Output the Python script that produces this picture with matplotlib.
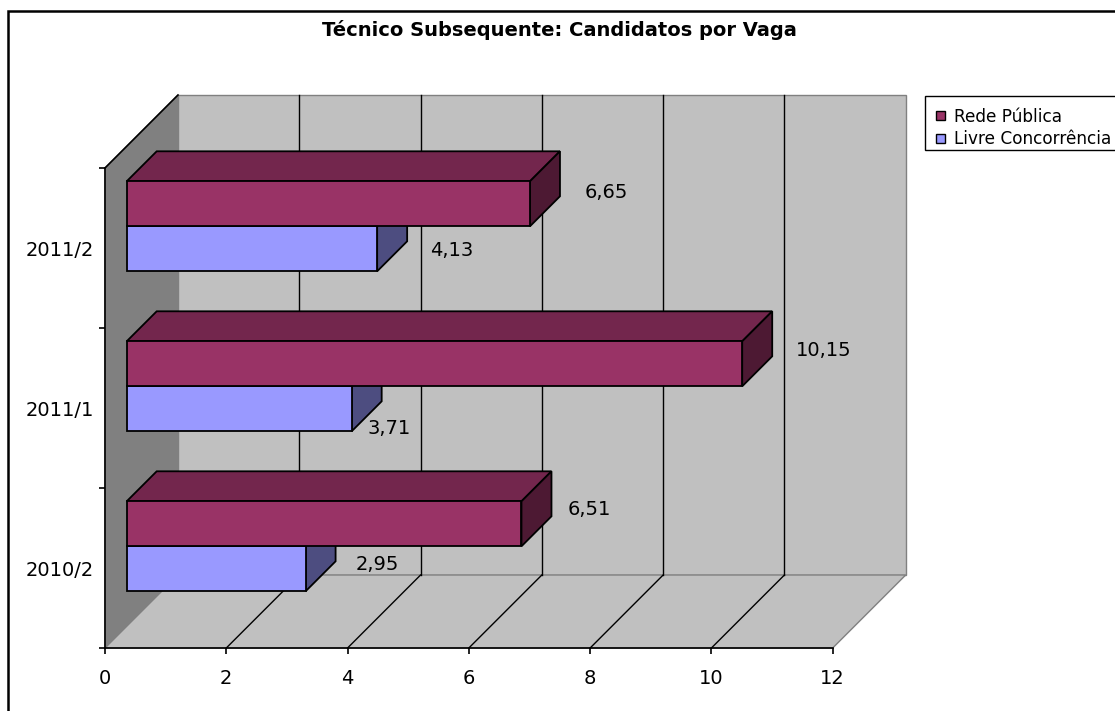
import matplotlib
matplotlib.use("Agg")
import matplotlib.pyplot as plt
from matplotlib.patches import Polygon, Rectangle

# ---------------- data ----------------
categories = ["2010/2", "2011/1", "2011/2"]
series_names = ["Rede Pública", "Livre Concorrência"]
rede_publica = [6.51, 10.15, 6.65]
livre_concorrencia = [2.95, 3.71, 4.13]
value_labels_rede = ["6,51", "10,15", "6,65"]
value_labels_livre = ["2,95", "3,71", "4,13"]
x_ticks = [0, 2, 4, 6, 8, 10, 12]
title = "Técnico Subsequente: Candidatos por Vaga"

# ---------------- style ----------------
W, H, DPI = 1115, 711, 100
plt.rcParams['font.family'] = ['DejaVu Sans']
c_rede = ("#993366", "#73264D", "#4D1933")     # front, top, side
c_livre = ("#9999FF", "#7373BF", "#4D4D80")
wall_back = "#C0C0C0"
wall_left = "#808080"
floor_c = "#C0C0C0"
edge_gray = "#808080"
# label nudges in pixels (dx right, dy down) from bar front end / centre
lab_off_rede = [(68, -9), (81, -8), (76, -6)]
lab_off_livre = [(72, 1), (37, 25), (75, 7)]

fig = plt.figure(figsize=(W / DPI, H / DPI), dpi=DPI)
fig.patch.set_facecolor("white")

def fx(px):
    return px / W

def fy(py):
    return 1 - py / H

# axes: front plane of the 3D box
ax_l, ax_r, ax_t, ax_b = 105, 832.7, 168, 648
ax = fig.add_axes([fx(ax_l), fy(ax_b), fx(ax_r - ax_l), (ax_b - ax_t) / H])
ax.set_xlim(0, 12)
ax.set_ylim(0, 3)
ax.patch.set_alpha(0)

ux = (ax_r - ax_l) / 12.0   # px per value unit
uy = (ax_b - ax_t) / 3.0    # px per category unit

def depth(px):
    return px / ux, px / uy

Dx, Dy = depth(73)          # full depth of the box
Fx, Fy = depth(21.7)        # front plane of bars
Bx, By = depth(30)          # bar depth

def poly(pts, fc, ec, lw=1.0, z=1):
    p = Polygon(pts, closed=True, facecolor=fc, edgecolor=ec, linewidth=lw,
                clip_on=False, zorder=z, joinstyle='miter')
    ax.add_patch(p)

# walls and floor
poly([(Dx, Dy), (12 + Dx, Dy), (12 + Dx, 3 + Dy), (Dx, 3 + Dy)], wall_back, edge_gray, 1.0, 1)
poly([(0, 0), (Dx, Dy), (Dx, 3 + Dy), (0, 3)], wall_left, edge_gray, 1.0, 1.1)
poly([(0, 0), (12, 0), (12 + Dx, Dy), (Dx, Dy)], floor_c, edge_gray, 1.0, 1.1)
ax.plot([0, Dx], [3, 3 + Dy], color="black", lw=1.2, clip_on=False, zorder=1.3)

for t in x_ticks[1:-1]:
    ax.plot([t + Dx, t + Dx], [Dy, 3 + Dy], color="black", lw=1.0, clip_on=False, zorder=1.2)
    ax.plot([t, t + Dx], [0, Dy], color="black", lw=1.0, clip_on=False, zorder=1.2)

# bars
bar_h = 45.0 / uy

def draw_bar(v, y0, y1, cols, z):
    front = [(Fx, y0 + Fy), (v + Fx, y0 + Fy), (v + Fx, y1 + Fy), (Fx, y1 + Fy)]
    top = [(Fx, y1 + Fy), (v + Fx, y1 + Fy), (v + Fx + Bx, y1 + Fy + By), (Fx + Bx, y1 + Fy + By)]
    side = [(v + Fx, y0 + Fy), (v + Fx + Bx, y0 + Fy + By), (v + Fx + Bx, y1 + Fy + By), (v + Fx, y1 + Fy)]
    poly(top, cols[1], "black", 1.3, z)
    poly(side, cols[2], "black", 1.3, z)
    poly(front, cols[0], "black", 1.3, z)

z = 2
for i, cat in enumerate(categories):
    c = i + 0.5
    draw_bar(livre_concorrencia[i], c - bar_h, c, c_livre, z)
    z += 1
    draw_bar(rede_publica[i], c, c + bar_h, c_rede, z)
    z += 1

# value labels
for i in range(len(categories)):
    c = i + 0.5
    for v, lab, off, yc in ((rede_publica[i], value_labels_rede[i], lab_off_rede[i], c + bar_h / 2),
                            (livre_concorrencia[i], value_labels_livre[i], lab_off_livre[i], c - bar_h / 2)):
        ax.annotate(lab, xy=(v + Fx, yc + Fy), xytext=(off[0] * 0.72, -off[1] * 0.72),
                    textcoords="offset points", ha="center", va="baseline",
                    fontsize=14, color="black", zorder=20, annotation_clip=False)

# axes spines / ticks
for s in ("top", "right"):
    ax.spines[s].set_visible(False)
for s in ("left", "bottom"):
    ax.spines[s].set_color("black")
    ax.spines[s].set_linewidth(1.2)
    ax.spines[s].set_zorder(15)

ax.set_xticks(x_ticks)
ax.set_xticklabels([str(t) for t in x_ticks])
ax.tick_params(axis="x", direction="out", length=6 * 0.72, width=1.2, pad=11,
               labelsize=14, colors="black")
ax.set_yticks([0, 1, 2, 3])
ax.set_yticklabels([])
ax.tick_params(axis="y", which="major", direction="out", length=6 * 0.72, width=1.2)
ax.set_yticks([0.5, 1.5, 2.5], minor=True)
ax.set_yticklabels(categories, minor=True)
ax.tick_params(axis="y", which="minor", length=0, pad=8, labelsize=14)

# title
fig.text(fx(559.5), fy(35.8), title, ha="center", va="baseline",
         fontsize=14, fontweight="bold", color="black")

# legend (drawn manually, box runs off the right edge as in the reference)
fig.patches.append(Rectangle((fx(925), fy(150)), fx(220), (150 - 96) / H,
                             transform=fig.transFigure, facecolor="white",
                             edgecolor="black", linewidth=1.0, clip_on=False))
leg_y = [115, 138]
for name, cols, yy in zip(series_names, (c_rede, c_livre), leg_y):
    fig.patches.append(Rectangle((fx(936), fy(yy + 4.5)), fx(9), 9 / H,
                                 transform=fig.transFigure, facecolor=cols[0],
                                 edgecolor="black", linewidth=1.0))
    fig.text(fx(954), fy(yy + 6.5), name, ha="left", va="baseline",
             fontsize=12.2, color="black")

# outer chart border
fig.patches.append(Rectangle((fx(8), fy(730)), fx(1130), (730 - 11) / H,
                             transform=fig.transFigure, facecolor="none",
                             edgecolor="black", linewidth=1.8, clip_on=False))

fig.savefig("out.png", dpi=DPI, facecolor="white")
